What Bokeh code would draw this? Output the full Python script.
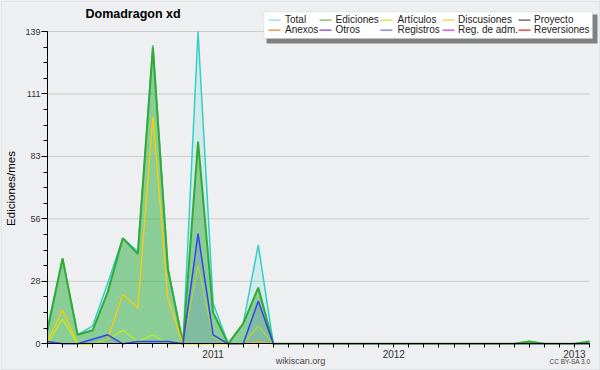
from math import pi
from bokeh.plotting import figure
from bokeh.models import (FixedTicker, Label, BoxAnnotation, Range1d, LinearAxis,
                          CustomJSTickFormatter)
from bokeh.embed import file_html
from bokeh.resources import INLINE

# ---------------- data (monthly edits) ----------------
months = ["2010-02", "2010-03", "2010-04", "2010-05", "2010-06", "2010-07",
          "2010-08", "2010-09", "2010-10", "2010-11", "2010-12", "2011-01",
          "2011-02", "2011-03", "2011-04", "2011-05", "2011-06", "2011-07",
          "2011-08", "2011-09", "2011-10", "2011-11", "2011-12", "2012-01",
          "2012-02", "2012-03", "2012-04", "2012-05", "2012-06", "2012-07",
          "2012-08", "2012-09", "2012-10", "2012-11", "2012-12", "2013-01",
          "2013-02"]
total =       [7, 38, 4, 8, 27, 47, 41, 133, 34, 0, 139, 18, 0, 9, 44, 0,
               0, 0, 0, 0, 0, 0, 0, 0, 0, 0, 0, 0, 0, 0, 0, 0, 1, 0, 0, 0, 1]
ediciones =   [6, 38, 4, 6, 23, 47, 40, 132, 33, 0, 90, 14, 0, 9, 25, 0,
               0, 0, 0, 0, 0, 0, 0, 0, 0, 0, 0, 0, 0, 0, 0, 0, 1, 0, 0, 0, 1]
discusiones = [1, 15, 0, 0, 2, 22, 16, 101, 20, 0, 0, 0, 0, 0, 1, 0,
               0, 0, 0, 0, 0, 0, 0, 0, 0, 0, 0, 0, 0, 0, 0, 0, 0, 0, 0, 0, 0]
articulos =   [0, 11, 0, 0, 2, 6, 1, 4, 0, 0, 35, 3, 0, 0, 8, 0,
               0, 0, 0, 0, 0, 0, 0, 0, 0, 0, 0, 0, 0, 0, 0, 0, 0, 0, 0, 0, 0]
registros =   [1, 0, 0, 2, 4, 0, 1, 1, 1, 0, 49, 4, 0, 0, 19, 0,
               0, 0, 0, 0, 0, 0, 0, 0, 0, 0, 0, 0, 0, 0, 0, 0, 0, 0, 0, 0, 0]

legend_row1 = ["Total", "Ediciones", "Artículos", "Discusiones", "Proyecto"]
legend_row2 = ["Anexos", "Otros", "Registros", "Reg. de adm.", "Reversiones"]
legend_col1 = ["#88dddd", "#66bb66", "#bbee33", "#ffcc33", "#555555"]
legend_col2 = ["#ff7733", "#8833ee", "#6677ee", "#dd33ee", "#ee2222"]

title = "Domadragon xd"
y_label = "Ediciones/mes"

# ---------------- styles / layout ----------------
W, H = 600, 370
BG = "#eeeff0"
FONT = "Liberation Sans"
C_TOTAL = "#33cfc8"
C_EDIC = "#33aa33"
C_DISC = "#ffcc00"
C_ART = "#bbee22"
C_REG = "#3344ee"
# pixel box of the data area inside the canvas
PL, PR, PT, PB = 47.0, 589.0, 31.0, 343.3

x = list(range(len(months)))
n = len(months)
ymax = max(total)
kx = (PR - PL) / (n - 1)
ky = (PB - PT) / ymax

p = figure(width=W, height=H, output_backend="svg", toolbar_location=None,
           x_range=Range1d(-PL / kx, (n - 1) + (W - PR) / kx),
           y_range=Range1d(-(H - PB) / ky, ymax + PT / ky),
           x_axis_location=None, y_axis_location=None, min_border=0)
p.background_fill_color = BG
p.border_fill_color = BG
p.outline_line_color = None
for g in p.grid:
    g.visible = False

# grid lines (horizontal, at the labelled y ticks)
yt = [ymax * k / 5 for k in range(6)]
ym = [ymax * k / 20 for k in range(21)]
p.segment(x0=0, x1=n - 1, y0=yt[1:], y1=yt[1:], line_color="#cccccc", line_width=1)

# ---------------- series ----------------
p.varea(x=x, y1=0, y2=total, fill_color=C_TOTAL, fill_alpha=0.15)
p.line(x, total, line_color=C_TOTAL, line_width=1.5)
p.varea(x=x, y1=0, y2=ediciones, fill_color=C_EDIC, fill_alpha=0.45)
p.line(x, ediciones, line_color=C_EDIC, line_width=2)
p.line(x, discusiones, line_color=C_DISC, line_width=1.3)
p.line(x, articulos, line_color=C_ART, line_width=1.3)
p.varea(x=x, y1=0, y2=registros, fill_color=C_REG, fill_alpha=0.12)
p.line(x, registros, line_color=C_REG, line_width=1.5)

# ---------------- axes ----------------
year_labels = [m[:4] if m.endswith("-01") else "" for m in months]
xaxis = LinearAxis(fixed_location=0, bounds=(0, n - 1),
                   ticker=FixedTicker(ticks=x, minor_ticks=[]),
                   formatter=CustomJSTickFormatter(args=dict(labels=year_labels),
                                                   code="return labels[Math.round(tick)] || '';"))
yaxis = LinearAxis(fixed_location=0, bounds=(0, ymax),
                   ticker=FixedTicker(ticks=yt, minor_ticks=ym),
                   formatter=CustomJSTickFormatter(code="return String(Math.round(tick));"))
for ax in (xaxis, yaxis):
    ax.axis_line_color = "black"
    ax.major_tick_line_color = "black"
    ax.minor_tick_line_color = "black"
    ax.major_tick_in = 0
    ax.minor_tick_in = 0
    ax.major_label_text_font = FONT
    ax.major_label_text_color = "#333333"
xaxis.major_tick_out = 4
xaxis.minor_tick_out = 0
xaxis.major_label_standoff = 2
xaxis.major_label_text_font_size = "10px"
yaxis.major_tick_out = 6
yaxis.minor_tick_out = 4
yaxis.major_label_standoff = 1
yaxis.major_label_text_font_size = "9px"
p.add_layout(xaxis, "below")
p.add_layout(yaxis, "left")


# ---------------- texts and legend (canvas pixel positions) ----------------
def sx(px):
    return px


def sy(py):
    return H - py


def box(l, t, r, b, **kw):
    return BoxAnnotation(left=sx(l), right=sx(r), top=sy(t), bottom=sy(b),
                         left_units="screen", right_units="screen",
                         top_units="screen", bottom_units="screen", **kw)


p.add_layout(box(0.5, 0.5, W - 0.5, H - 0.5, fill_alpha=0, line_color="#aaaaaa",
                 line_width=1))

p.add_layout(Label(x=sx(85), y=sy(13.5), x_units="screen", y_units="screen",
                   text=title, text_font=FONT, text_font_style="bold",
                   text_font_size="12.5px", text_baseline="middle",
                   text_align="left", text_color="black"))
p.add_layout(Label(x=sx(10.5), y=sy(188), x_units="screen", y_units="screen",
                   text=y_label, angle=pi / 2, text_font=FONT,
                   text_font_size="11.5px", text_align="center",
                   text_baseline="middle", text_color="black"))
p.add_layout(Label(x=sx(300), y=sy(360), x_units="screen", y_units="screen",
                   text="wikiscan.org", text_font=FONT, text_font_size="9px",
                   text_align="center", text_baseline="middle", text_color="#444444"))
p.add_layout(Label(x=sx(590), y=sy(361), x_units="screen", y_units="screen",
                   text="CC BY-SA 3.0", text_font=FONT, text_font_size="6.5px",
                   text_align="right", text_baseline="middle", text_color="#444444"))

p.add_layout(box(266, 14, 597, 43, fill_color="#808080", fill_alpha=1, line_color=None))
p.add_layout(box(263.5, 11.5, 592, 38, fill_color="white", fill_alpha=1,
                 line_color="#c0c0c0", line_width=1))
line_x = [268, 319, 380, 442, 518]
text_x = [284.5, 335, 397, 457.5, 533.5]
row_y = [19, 29]
for row, (names, cols) in enumerate(((legend_row1, legend_col1),
                                     (legend_row2, legend_col2))):
    yy = row_y[row]
    for i, (name, col) in enumerate(zip(names, cols)):
        p.add_layout(box(line_x[i], yy, line_x[i] + 12, yy + 1.3,
                         fill_color=col, fill_alpha=1, line_color=None))
        p.add_layout(Label(x=sx(text_x[i]), y=sy(yy), x_units="screen",
                           y_units="screen", text=name, text_font=FONT,
                           text_font_size="10px", text_align="left",
                           text_baseline="middle", text_color="#222222"))

open("out.html", "w").write(file_html(p, INLINE))
